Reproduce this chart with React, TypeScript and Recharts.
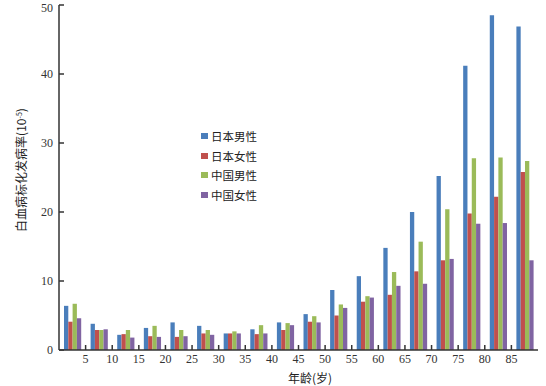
import { Bar, BarChart, XAxis, YAxis } from 'recharts';

const ageGroups = ['0-4', '5-9', '10-14', '15-19', '20-24', '25-29', '30-34', '35-39', '40-44', '45-49', '50-54', '55-59', '60-64', '65-69', '70-74', '75-79', '80-84', '85+'];
const japanMale = [6.4, 3.8, 2.2, 3.2, 4.0, 3.5, 2.4, 3.0, 4.0, 5.2, 8.7, 10.7, 14.8, 20.0, 25.2, 41.2, 48.5, 46.9];
const japanFemale = [4.1, 2.9, 2.3, 2.0, 1.9, 2.4, 2.4, 2.3, 2.9, 4.1, 5.0, 7.0, 8.0, 11.4, 13.0, 19.8, 22.2, 25.8];
const chinaMale = [6.7, 2.9, 2.9, 3.5, 2.9, 2.9, 2.7, 3.6, 3.9, 4.9, 6.6, 7.8, 11.3, 15.7, 20.4, 27.8, 27.9, 27.4];
const chinaFemale = [4.6, 3.0, 1.8, 1.9, 2.0, 2.2, 2.4, 2.4, 3.6, 4.0, 6.1, 7.6, 9.3, 9.6, 13.2, 18.3, 18.4, 13.0];
const boundaryLabels = ['5', '10', '15', '20', '25', '30', '35', '40', '45', '50', '55', '60', '65', '70', '75', '80', '85'];
const yTicks = [0, 10, 20, 30, 40, 50];

const series = [
  { key: 'jm', name: '日本男性', color: '#4a7ebb', values: japanMale },
  { key: 'jf', name: '日本女性', color: '#c0504d', values: japanFemale },
  { key: 'cm', name: '中国男性', color: '#9bbb59', values: chinaMale },
  { key: 'cf', name: '中国女性', color: '#8064a2', values: chinaFemale },
];

const data = ageGroups.map((age, i) => {
  const row: Record<string, number | string> = { age, pos: i + 0.5 };
  series.forEach((s) => {
    row[s.key] = s.values[i];
  });
  return row;
});

const serif = '"Liberation Serif", "DejaVu Serif", serif';
const cjk = '"Noto Sans CJK SC", sans-serif';

// legend drawn as an overlay so it takes no room from the plot
const LegendBox = () => (
  <div style={{ position: 'absolute', left: 201, top: 126, fontFamily: cjk, fontSize: 11.5, color: '#222' }}>
    {series.map((s) => (
      <div key={s.key} style={{ display: 'flex', alignItems: 'center', height: 19.7 }}>
        <span style={{ width: 7, height: 6, background: s.color, marginRight: 3, display: 'inline-block' }} />
        <span style={{ lineHeight: '14px' }}>{s.name}</span>
      </div>
    ))}
  </div>
);

const YLabel = () => (
  <text transform="translate(26,170) rotate(-90)" textAnchor="middle" fontSize={12} fontFamily={cjk} fill="#222">
    白血病标化发病率(10
    <tspan dy={-4} fontSize={7}>-5</tspan>
    <tspan dy={4}>)</tspan>
  </text>
);

const XLabel = () => (
  <text x={310} y={383} textAnchor="middle" fontSize={12} fontFamily={cjk} fill="#222">
    年龄(岁)
  </text>
);

export default function App() {
  return (
    <div style={{ position: 'absolute', left: 0, top: 0, width: 546, height: 386, background: '#fff' }}>
      <BarChart
        width={546}
        height={386}
        data={data}
        margin={{ top: 5, right: 8, bottom: 16, left: 19 }}
        barGap={0}
        barSize={4.3}
      >
        {/* boundary ticks: labels sit between age groups */}
        <XAxis
          xAxisId="num"
          dataKey="pos"
          type="number"
          domain={[0, 18]}
          ticks={[1, 2, 3, 4, 5, 6, 7, 8, 9, 10, 11, 12, 13, 14, 15, 16, 17]}
          tickFormatter={(v) => boundaryLabels[Number(v) - 1]}
          allowDataOverflow
          height={20}
          interval={0}
          tickSize={-5}
          tickMargin={9}
          axisLine={{ stroke: '#333', strokeWidth: 1.5 }}
          tickLine={{ stroke: '#333', strokeWidth: 1.5 }}
          tick={{ fontFamily: serif, fontSize: 12, fill: '#333' }}
        />
        <XAxis xAxisId="cat" dataKey="age" hide height={0} />
        <YAxis
          domain={[0, 50]}
          ticks={yTicks}
          width={40}
          tickSize={-5}
          tickMargin={11}
          axisLine={{ stroke: '#333', strokeWidth: 1.5 }}
          tickLine={{ stroke: '#333', strokeWidth: 1.5 }}
          tick={{ fontFamily: serif, fontSize: 12, fill: '#333' }}
        />
        {series.map((s) => (
          <Bar key={s.key} xAxisId="cat" dataKey={s.key} name={s.name} fill={s.color} isAnimationActive={false} />
        ))}
        <YLabel />
        <XLabel />
      </BarChart>
      <LegendBox />
    </div>
  );
}
